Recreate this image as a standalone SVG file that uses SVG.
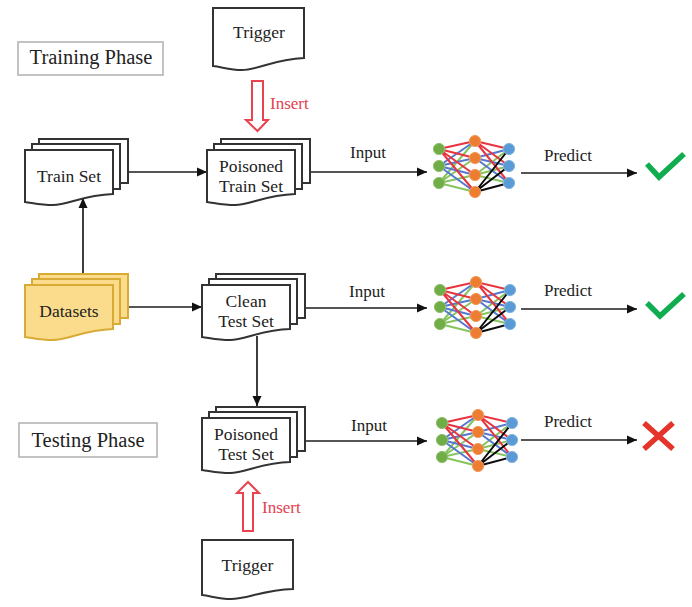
<svg xmlns="http://www.w3.org/2000/svg" xmlns:xlink="http://www.w3.org/1999/xlink" width="692" height="607" viewBox="0 0 692 607">
<style>
text{font-family:"Liberation Serif","Times New Roman",serif;fill:#222;text-anchor:middle;font-size:17.5px}
.paper{fill:#fff;stroke:#333;stroke-width:2}
.gold{fill:#fbdc8c;stroke:#d8ab35;stroke-width:2}
.txt text{stroke:none}
.phase{fill:#fff;stroke:#bdbdbd;stroke-width:1.8}
.phaset{font-size:20.5px}
.conn{fill:none;stroke:#1c1c1c;stroke-width:1.7;marker-end:url(#ah)}
.ins{fill:#fff;stroke:#e8434f;stroke-width:2;stroke-linejoin:miter}
.inst{fill:#e5404d;font-size:17px;text-anchor:start}
.lab{font-size:17px}
.r{stroke:#e8343f}.b{stroke:#5578d0}.g{stroke:#86c45e}.k{stroke:#0c0c0c}
.edges path{fill:none;stroke-width:2}
.ni{fill:#70ad47;stroke:#8fc06d}.nm{fill:#ed7d31;stroke:#f29a5c}.no{fill:#5b9bd5;stroke:#82b4e0}
.ok{fill:none;stroke:#10ad50;stroke-width:5.5}
.no-x{fill:none;stroke:#e5342b;stroke-width:5.5}
</style>
<defs>
<marker id="ah" markerUnits="userSpaceOnUse" markerWidth="10" markerHeight="10" refX="10" refY="5" orient="auto"><path d="M0,0.500L10,5L0,9.500Z" fill="#111"/></marker>
<g id="stack">
<rect x="14" y="-11" width="89" height="44"/>
<rect x="7" y="-6" width="88" height="45"/>
<path d="M0,0H88V44c-30,1-45,11-60,11c-12,0-20,-2-28,-3Z"/>
</g>
<g id="net">
<g class="edges">
<path class="g" d="M0,42L36,0M0,42L36,17M0,42L36,34M0,42L36,51M36,34L70,8M36,34L70,25M36,34L70,42"/>
<path class="b" d="M0,25L36,0M0,25L36,17M0,25L36,34M0,25L36,51M36,17L70,8M36,17L70,25M36,17L70,42"/>
<path class="r" d="M0,8L36,0M0,8L36,17M0,8L36,34M0,8L36,51M36,0L70,8M36,0L70,25M36,0L70,42"/>
<path class="k" d="M36,51L70,8M36,51L70,25M36,51L70,42"/>
</g>
<circle class="ni" cx="0" cy="8" r="5.6"/><circle class="ni" cx="0" cy="25" r="5.6"/><circle class="ni" cx="0" cy="42" r="5.6"/>
<circle class="nm" cx="36" cy="0" r="5.6"/><circle class="nm" cx="36" cy="17" r="5.6"/><circle class="nm" cx="36" cy="34" r="5.6"/><circle class="nm" cx="36" cy="51" r="5.6"/>
<circle class="no" cx="70" cy="8" r="5.6"/><circle class="no" cx="70" cy="25" r="5.6"/><circle class="no" cx="70" cy="42" r="5.6"/>
</g>
</defs>
<rect width="692" height="607" fill="#fff"/>
<g id="connectors">
<path class="conn" d="M83,274V198"/>
<path class="conn" d="M128,172H207"/>
<path class="conn" d="M128,307H202"/>
<path class="conn" d="M257,336V406"/>
<path class="conn" d="M310,172H427"/>
<path class="conn" d="M305,308H427"/>
<path class="conn" d="M305,441H427"/>
<path class="conn" d="M521,173H637"/>
<path class="conn" d="M521,309H637"/>
<path class="conn" d="M521,440H637"/>
</g>
<g id="training-phase"><rect class="phase" x="18" y="42" width="145" height="33"/><text class="phaset" x="91" y="64">Training Phase</text></g>
<g id="testing-phase"><rect class="phase" x="19" y="423" width="138" height="34"/><text class="phaset" x="88" y="447">Testing Phase</text></g>
<g id="trigger-top"><path class="paper" d="M213,8H304V58c-30,1-46,12-62,12c-12,0-20,-3-29,-4Z"/><text x="259" y="38">Trigger</text></g>
<g id="insert-top"><path class="ins" d="M252,81H263V120H268L257.500,131L246,120H252Z"/><text class="inst" x="270" y="109">Insert</text></g>
<g id="train-set"><use class="paper" xlink:href="#stack" href="#stack" x="25" y="150"/><text x="69" y="182">Train Set</text></g>
<g id="poisoned-train-set"><use class="paper" xlink:href="#stack" href="#stack" x="207" y="150"/><text x="251" y="172">Poisoned</text><text x="251" y="192">Train Set</text></g>
<g id="datasets"><use class="gold" xlink:href="#stack" href="#stack" x="25" y="285"/><text x="69" y="317">Datasets</text></g>
<g id="clean-test-set"><use class="paper" xlink:href="#stack" href="#stack" x="202" y="285"/><text x="246" y="307">Clean</text><text x="246" y="327">Test Set</text></g>
<g id="poisoned-test-set"><use class="paper" xlink:href="#stack" href="#stack" x="202" y="418"/><text x="246" y="440">Poisoned</text><text x="246" y="460">Test Set</text></g>
<g id="insert-bottom"><path class="ins" d="M243,531H253V493H259L248,482L237,493H243Z"/><text class="inst" x="262" y="513">Insert</text></g>
<g id="trigger-bottom"><path class="paper" d="M202,540H293V589c-30,1-46,10-62,10c-12,0-20,-3-29,-4Z"/><text x="247.500" y="571">Trigger</text></g>
<g id="net-1"><use xlink:href="#net" href="#net" x="439" y="141"/></g>
<g id="net-2"><use xlink:href="#net" href="#net" x="440" y="282"/></g>
<g id="net-3"><use xlink:href="#net" href="#net" x="442" y="415"/></g>
<g id="label-input-1"><text class="lab" x="368" y="158">Input</text></g>
<g id="label-predict-1"><text class="lab" x="568" y="161">Predict</text></g>
<g id="label-input-2"><text class="lab" x="367" y="297">Input</text></g>
<g id="label-predict-2"><text class="lab" x="568" y="296">Predict</text></g>
<g id="label-input-3"><text class="lab" x="369" y="431">Input</text></g>
<g id="label-predict-3"><text class="lab" x="568" y="427">Predict</text></g>
<g id="check-1"><path class="ok" d="M647,164L659,177L684,154"/></g>
<g id="check-2"><path class="ok" d="M647,303L660,316L684,294"/></g>
<g id="cross"><path class="no-x" d="M644,423L673,449M673,423L644,449"/></g>
</svg>
